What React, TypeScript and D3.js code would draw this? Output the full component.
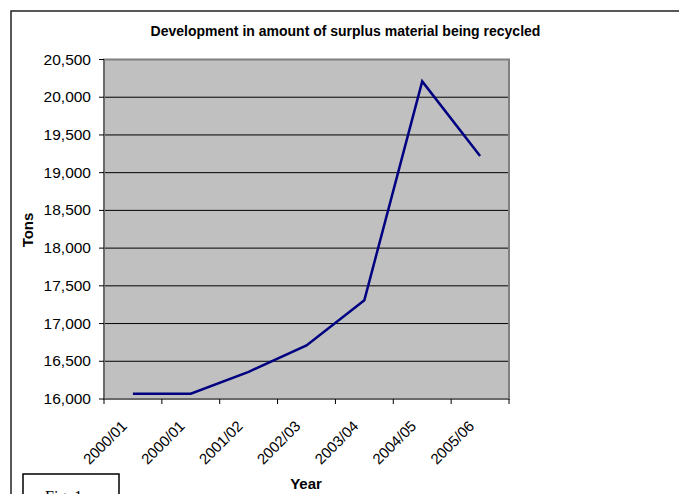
import React from "react";
import * as d3 from "d3";

const categories = ["2000/01", "2000/01", "2001/02", "2002/03", "2003/04", "2004/05", "2005/06"];
const tons = [16070, 16070, 16360, 16710, 17310, 20210, 19220];
const yTicks = [16000, 16500, 17000, 17500, 18000, 18500, 19000, 19500, 20000, 20500];
const title = "Development in amount of surplus material being recycled";
const yTitle = "Tons";
const xTitle = "Year";
const figLabel = "Fig. 1";

export default function App() {
  const W = 679, H = 494;
  const left = 104, right = 509, top = 59.5, bottom = 399;
  const x = d3.scaleBand<number>().domain(d3.range(categories.length)).range([left, right]);
  const y = d3.scaleLinear().domain([16000, 20500]).range([bottom, top]);
  const line = d3.line<number>().x((_, i) => (x(i) as number) + x.bandwidth() / 2).y((d) => y(d));
  const font = "Arial, 'Liberation Sans', sans-serif";
  return (
    <svg width={W} height={H} style={{ position: "absolute", left: 0, top: 0 }} fontFamily={font}>
      <rect x={0} y={0} width={W} height={H} fill="#fff" />
      <rect x={11} y={11} width={720} height={520} fill="none" stroke="#222" strokeWidth={1.5} />
      <text x={345.5} y={36} textAnchor="middle" fontSize={14} fontWeight="bold">{title}</text>
      <rect x={left} y={top} width={right - left} height={bottom - top} fill="#c0c0c0" />
      {yTicks.slice(1, -1).map((t) => (
        <line key={t} x1={left} x2={right} y1={y(t)} y2={y(t)} stroke="#000" strokeWidth={1} />
      ))}
      <rect x={left} y={top} width={right - left} height={bottom - top} fill="none" stroke="#808080" strokeWidth={2} />
      <line x1={left} x2={left} y1={top} y2={bottom} stroke="#555" strokeWidth={1} />
      <line x1={left} x2={right} y1={bottom} y2={bottom} stroke="#555" strokeWidth={1} />
      {yTicks.map((t) => (
        <g key={t}>
          <line x1={left - 5} x2={left} y1={y(t)} y2={y(t)} stroke="#000" />
          <text x={91} y={y(t) + 5} textAnchor="end" fontSize={15.5}>{d3.format(",")(t)}</text>
        </g>
      ))}
      {d3.range(categories.length + 1).map((i) => {
        const xx = i < categories.length ? (x(i) as number) : right;
        return <line key={i} x1={xx} x2={xx} y1={bottom} y2={bottom + 5} stroke="#000" />;
      })}
      {categories.map((c, i) => {
        const cx = (x(i) as number) + x.bandwidth() / 2;
        const ay = 427;
        const ax = cx - 5;
        return (
          <text key={i} x={ax} y={ay} textAnchor="end" fontSize={15} transform={`rotate(-45 ${ax} ${ay})`}>{c}</text>
        );
      })}
      <path d={line(tons) || ""} fill="none" stroke="#000080" strokeWidth={2.5} strokeLinejoin="miter" />
      <text x={0} y={0} transform={`translate(33 230) rotate(-90)`} textAnchor="middle" fontSize={15} fontWeight="bold">{yTitle}</text>
      <text x={306} y={489} textAnchor="middle" fontSize={15} fontWeight="bold">{xTitle}</text>
      <rect x={23} y={474} width={96} height={40} fill="#fff" stroke="#000" strokeWidth={1.5} />
      <text x={45} y={502} fontFamily="'Liberation Serif', 'Times New Roman', serif" fontSize={16}>{figLabel}</text>
    </svg>
  );
}
